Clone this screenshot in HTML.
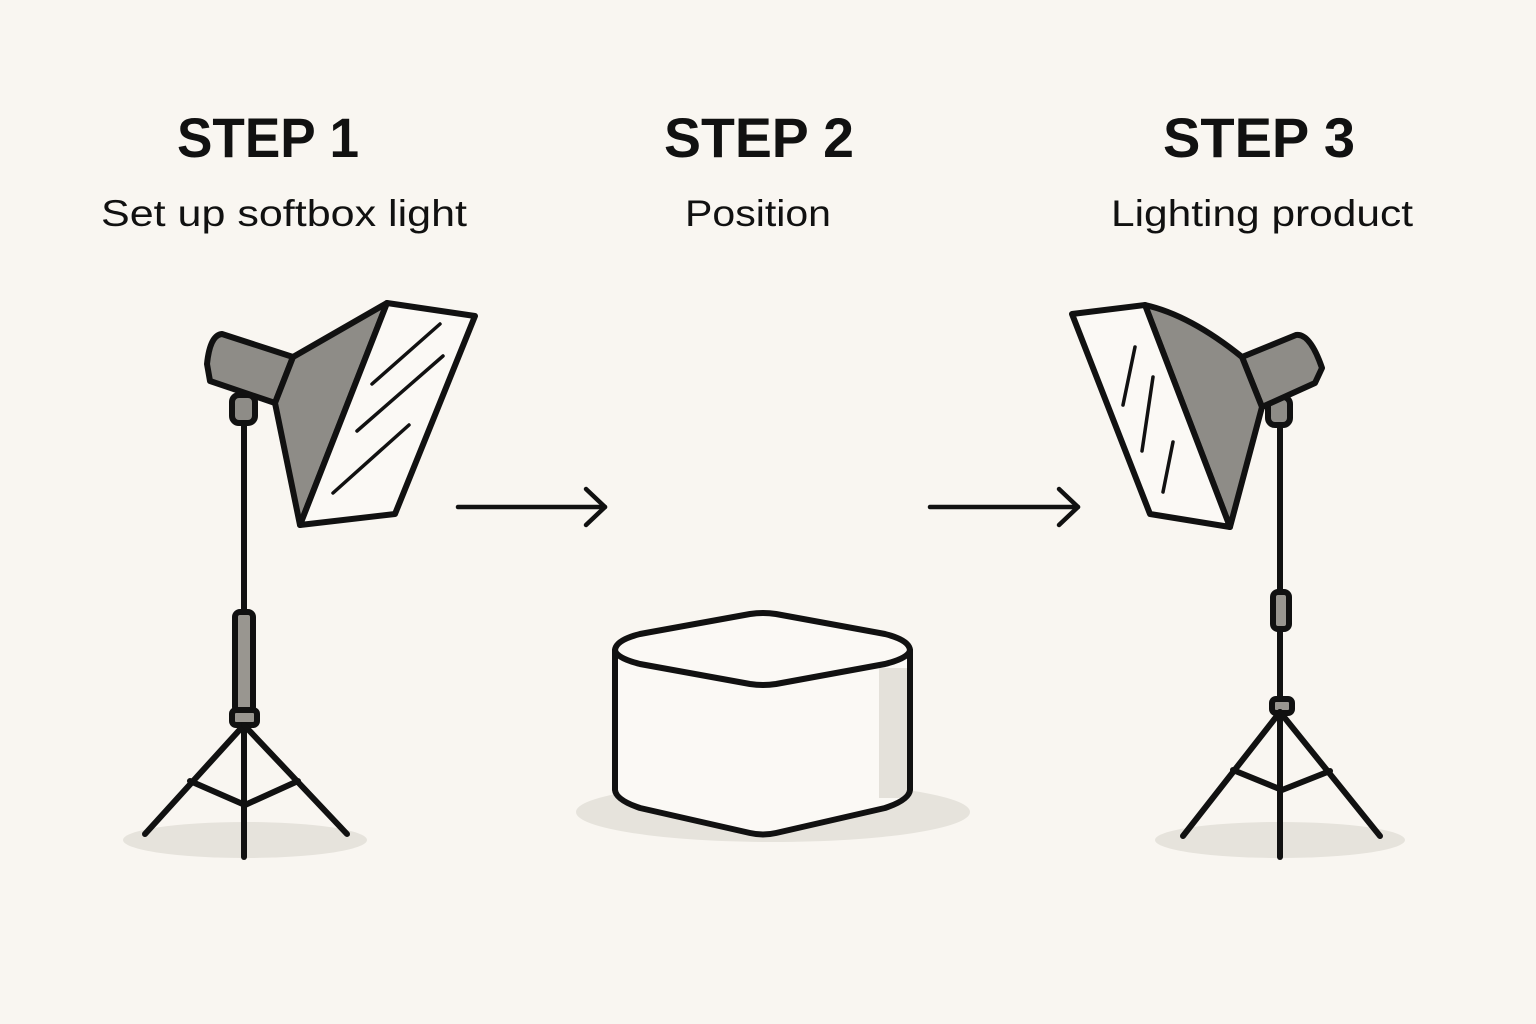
<!DOCTYPE html>
<html><head><meta charset="utf-8"><style>
html,body{margin:0;padding:0;background:#f9f6f1;}
svg{display:block}
text{font-family:"Liberation Sans",sans-serif;fill:#111;}
</style></head><body>
<svg width="1536" height="1024" viewBox="0 0 1536 1024" xmlns="http://www.w3.org/2000/svg">
<rect width="1536" height="1024" fill="#f9f6f1"/>
<g text-anchor="middle">
<text x="268" y="157" font-size="56" font-weight="bold" textLength="182" lengthAdjust="spacingAndGlyphs">STEP 1</text>
<text x="759" y="157" font-size="56" font-weight="bold" textLength="190" lengthAdjust="spacingAndGlyphs">STEP 2</text>
<text x="1259" y="157" font-size="56" font-weight="bold" textLength="192" lengthAdjust="spacingAndGlyphs">STEP 3</text>
<text x="284" y="226" font-size="37" textLength="366" lengthAdjust="spacingAndGlyphs">Set up softbox light</text>
<text x="758" y="226" font-size="37" textLength="146" lengthAdjust="spacingAndGlyphs">Position</text>
<text x="1262" y="226" font-size="37" textLength="302" lengthAdjust="spacingAndGlyphs">Lighting product</text>
</g>
<ellipse cx="245" cy="840" rx="122" ry="18" fill="#e6e3dc"/>
<ellipse cx="1280" cy="840" rx="125" ry="18" fill="#e6e3dc"/>
<ellipse cx="773" cy="812" rx="197" ry="30" fill="#e6e3dc"/>
<g stroke="#111" stroke-width="6" stroke-linejoin="round" stroke-linecap="round" fill="none">
<line x1="244" y1="420" x2="244" y2="857"/>
<rect x="235" y="612" width="18" height="100" rx="5" fill="#999690"/>
<rect x="232" y="710" width="25" height="15" rx="4" fill="#999690"/>
<line x1="244" y1="725" x2="145" y2="834"/>
<line x1="244" y1="725" x2="347" y2="834"/>
<polyline points="190,781 245,805 298,781"/>
<rect x="232" y="395" width="23" height="28" rx="7" fill="#8e8c87"/>
<path d="M210,381 L207,364 Q210,335 222,334 L293,357 L275,403 Z" fill="#8e8c87"/>
<path d="M293,357 L387,303 L300,525 L275,403 Z" fill="#8e8c87"/>
<path d="M387,303 L475,316 L395,514 L300,525 Z" fill="#fbf9f5"/>
<g stroke-width="3.5">
<line x1="372" y1="384" x2="440" y2="324"/>
<line x1="357" y1="431" x2="443" y2="356"/>
<line x1="333" y1="493" x2="409" y2="425"/>
</g>
<line x1="1280" y1="420" x2="1280" y2="857"/>
<rect x="1273" y="592" width="16" height="37" rx="5" fill="#999690"/>
<rect x="1272" y="699" width="20" height="14" rx="4" fill="#999690"/>
<line x1="1280" y1="712" x2="1183" y2="836"/>
<line x1="1280" y1="712" x2="1380" y2="836"/>
<polyline points="1233,770 1282,790 1330,771"/>
<rect x="1268" y="397" width="22" height="28" rx="7" fill="#8e8c87"/>
<path d="M1242,357 L1296,335 Q1310,333 1322,368 L1315,383 L1262,407 Z" fill="#8e8c87"/>
<path d="M1145,305 Q1190,315 1242,357 L1262,407 L1230,527 Z" fill="#8e8c87"/>
<path d="M1072,314 L1145,305 L1230,527 L1150,514 Z" fill="#fbf9f5"/>
<g stroke-width="3.5">
<line x1="1135" y1="347" x2="1123" y2="405"/>
<line x1="1153" y1="377" x2="1142" y2="451"/>
<line x1="1173" y1="442" x2="1163" y2="492"/>
</g>
<line x1="458" y1="507" x2="605" y2="507" stroke-width="4.5"/>
<polyline points="586,489 605,507 586,525" stroke-width="4.5"/>
<line x1="930" y1="507" x2="1078" y2="507" stroke-width="4.5"/>
<polyline points="1059,489 1078,507 1059,525" stroke-width="4.5"/>
<path d="M615,650 L615,790 Q616,800 640,808 L750,833 Q763,836 776,833 L885,808 Q909,800 910,790 L910,650 Z" fill="#fbf9f5" stroke="none"/>
<rect x="879" y="668" width="28" height="130" fill="#e4e1da" stroke="none"/>
<path d="M615,650 Q616,640 640,634 L750,614 Q763,612 776,614 L885,634 Q909,640 910,650 Q909,658 885,664 L776,684 Q763,686 750,684 L640,664 Q616,658 615,650 Z" fill="#fbf9f5"/>
<path d="M615,650 L615,790 Q616,800 640,808 L750,833 Q763,836 776,833 L885,808 Q909,800 910,790 L910,650"/>
</g>
</svg>
</body></html>
